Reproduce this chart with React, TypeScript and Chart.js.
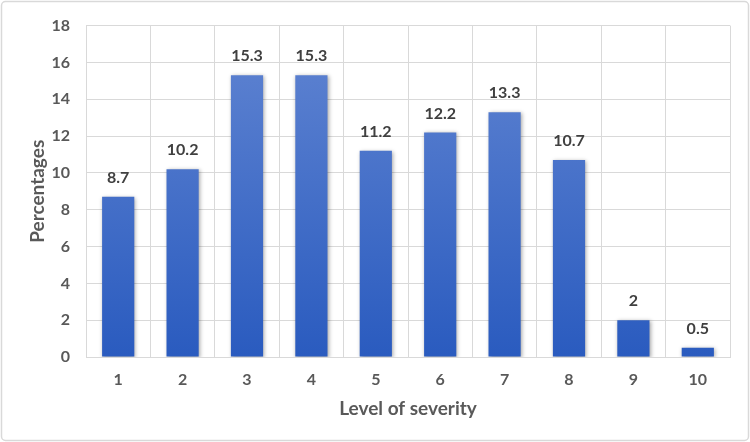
import React, { useEffect, useRef } from 'react';
import { Chart, registerables } from 'chart.js';

Chart.register(...registerables);

const categories = ['1', '2', '3', '4', '5', '6', '7', '8', '9', '10'];
const percentages = [8.7, 10.2, 15.3, 15.3, 11.2, 12.2, 13.3, 10.7, 2, 0.5];
const yMin = 0;
const yMax = 18;
const yStep = 2;
const xTitle = 'Level of severity';
const yTitle = 'Percentages';

const FONT = 'Lato, "Open Sans", "DejaVu Sans", sans-serif';
const TEXT = '#595959';
const GRID = '#d9d9d9';

const framePlugin = {
  id: 'frame',
  beforeDraw(chart: any) {
    const ctx = chart.ctx;
    ctx.save();
    ctx.fillStyle = '#ffffff';
    ctx.fillRect(0, 0, chart.width, chart.height);
    ctx.strokeStyle = GRID;
    ctx.lineWidth = 1.5;
    ctx.beginPath();
    const x = 1.5, y = 1.5, w = chart.width - 3, h = chart.height - 3, r = 4;
    ctx.moveTo(x + r, y);
    ctx.arcTo(x + w, y, x + w, y + h, r);
    ctx.arcTo(x + w, y + h, x, y + h, r);
    ctx.arcTo(x, y + h, x, y, r);
    ctx.arcTo(x, y, x + w, y, r);
    ctx.closePath();
    ctx.stroke();
    ctx.restore();
  },
};

const shadowLabelPlugin = {
  id: 'shadowLabels',
  beforeDatasetsDraw(chart: any) {
    const ctx = chart.ctx;
    ctx.save();
    ctx.shadowColor = 'rgba(0,0,0,0.35)';
    ctx.shadowBlur = 4;
    ctx.shadowOffsetX = 1;
    ctx.shadowOffsetY = 1;
  },
  afterDatasetsDraw(chart: any) {
    const ctx = chart.ctx;
    ctx.restore();
    ctx.save();
    ctx.font = `bold 16px ${FONT}`;
    ctx.fillStyle = '#404040';
    ctx.textAlign = 'center';
    ctx.textBaseline = 'middle';
    const meta = chart.getDatasetMeta(0);
    meta.data.forEach((bar: any, i: number) => {
      ctx.fillText(String(percentages[i]), bar.x, bar.y - 19);
    });
    ctx.restore();
  },
};

export default function App() {
  const ref = useRef<HTMLCanvasElement>(null);

  useEffect(() => {
    if (!ref.current) return;
    const chart = new Chart(ref.current, {
      type: 'bar',
      data: {
        labels: categories,
        datasets: [
          {
            data: percentages,
            backgroundColor: (c: any) => {
              const area = c.chart.chartArea;
              if (!area) return '#4472c4';
              const g = c.chart.ctx.createLinearGradient(0, area.top, 0, area.bottom);
              g.addColorStop(0, '#6185d2');
              g.addColorStop(1, '#2a5bbf');
              return g;
            },
            borderWidth: 0,
            categoryPercentage: 1,
            barPercentage: 0.5,
          },
        ],
      },
      options: {
        responsive: false,
        animation: false,
        devicePixelRatio: 1,
        layout: { padding: { left: 20, right: 20, top: 21, bottom: 0 } },
        plugins: {
          legend: { display: false },
          tooltip: { enabled: false },
        },
        scales: {
          x: {
            grid: { color: GRID, drawTicks: false, offset: true },
            border: { color: GRID },
            ticks: {
              color: TEXT,
              padding: 13,
              font: { family: FONT, size: 16, weight: 'bold' },
            },
            title: {
              display: true,
              text: xTitle,
              color: TEXT,
              padding: { top: 0, bottom: 22 },
              font: { family: FONT, size: 19, weight: 'bold' },
            },
            afterFit(scale: any) {
              scale.height = 85;
            },
          },
          y: {
            min: yMin,
            max: yMax,
            grid: { color: GRID, drawTicks: false },
            border: { color: GRID },
            ticks: {
              stepSize: yStep,
              color: TEXT,
              padding: 16,
              font: { family: FONT, size: 16, weight: 'bold' },
            },
            title: {
              display: true,
              text: yTitle,
              color: TEXT,
              padding: { top: 6, bottom: 0 },
              font: { family: FONT, size: 19, weight: 'bold' },
            },
            afterFit(scale: any) {
              scale.width = 86 - 20;
            },
          },
        },
      },
      plugins: [framePlugin, shadowLabelPlugin],
    });
    return () => chart.destroy();
  }, []);

  return (
    <div style={{ position: 'fixed', left: 0, top: 0, width: 750, height: 442 }}>
      <canvas ref={ref} width={750} height={442} />
    </div>
  );
}
